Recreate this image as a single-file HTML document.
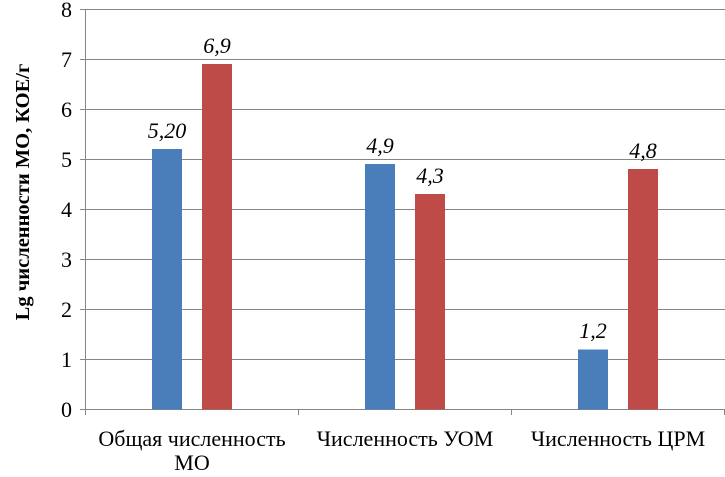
<!DOCTYPE html>
<html><head><meta charset="utf-8"><style>body{margin:0;background:#fff}</style></head><body>
<svg width="725" height="472" xmlns="http://www.w3.org/2000/svg" font-family="Liberation Serif, serif">
<g stroke="#868686" stroke-width="1">
<line x1="80" y1="9.5" x2="725" y2="9.5"/><line x1="80" y1="59.5" x2="725" y2="59.5"/>
<line x1="80" y1="109.5" x2="725" y2="109.5"/><line x1="80" y1="159.5" x2="725" y2="159.5"/>
<line x1="80" y1="209.5" x2="725" y2="209.5"/><line x1="80" y1="259.5" x2="725" y2="259.5"/>
<line x1="80" y1="309.5" x2="725" y2="309.5"/><line x1="80" y1="359.5" x2="725" y2="359.5"/>
<line x1="80" y1="409.5" x2="725" y2="409.5"/>
<line x1="85.5" y1="9" x2="85.5" y2="415"/>
<line x1="298.5" y1="409" x2="298.5" y2="415"/><line x1="511.5" y1="409" x2="511.5" y2="415"/><line x1="724.5" y1="409" x2="724.5" y2="415"/>
</g>
<g fill="#4a7ebb">
<rect x="152" y="149" width="30" height="260.5"/><rect x="365" y="164" width="30" height="245.5"/><rect x="578" y="349.5" width="30" height="60"/>
</g>
<g fill="#be4b48">
<rect x="202" y="64" width="30" height="345.5"/><rect x="415" y="194" width="30" height="215.5"/><rect x="628" y="169" width="30" height="240.5"/>
</g>
<g font-size="22" text-anchor="end" fill="#000">
<text x="72" y="17">8</text><text x="72" y="67">7</text><text x="72" y="117">6</text><text x="72" y="167">5</text><text x="72" y="217">4</text><text x="72" y="267">3</text><text x="72" y="317">2</text><text x="72" y="367">1</text><text x="72" y="417">0</text>
</g>
<g font-size="22" font-style="italic" text-anchor="middle">
<text x="167" y="138">5,20</text><text x="217" y="53">6,9</text>
<text x="380" y="153">4,9</text><text x="430" y="183">4,3</text>
<text x="593" y="338">1,2</text><text x="643" y="158">4,8</text>
</g>
<g font-size="22" text-anchor="middle">
<text x="192" y="446">Общая численность</text><text x="192" y="470">МО</text>
<text x="405" y="446">Численность УОМ</text>
<text x="618" y="446">Численность ЦРМ</text>
</g>
<text transform="translate(23,192) rotate(-90)" font-size="20.5" font-weight="bold" text-anchor="middle" dominant-baseline="central">Lg  численности МО, КОЕ/г</text>
</svg>
</body></html>
